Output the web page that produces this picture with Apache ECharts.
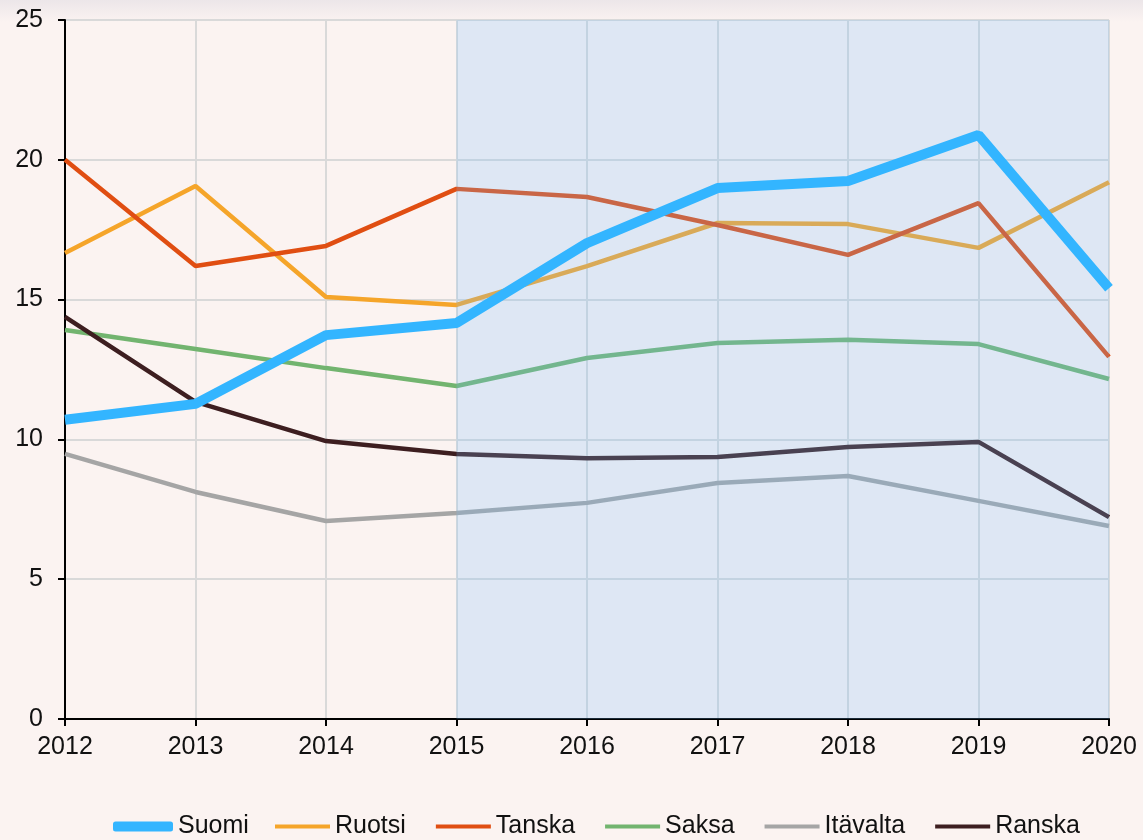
<!DOCTYPE html>
<html>
<head>
<meta charset="utf-8">
<script src="https://cdn.jsdelivr.net/npm/echarts@6/dist/echarts.min.js"></script>
<style>
    html, body {
        margin: 0;
        padding: 0;
        background: linear-gradient(#ece6e9 0px, #fbf3f1 22px, #fbf3f1 100%);
    }
    #chart {
        width: 1143px;
        height: 840px;
    }
</style>
</head>
<body>
<div id="chart"></div>
<script>
// vuodet ja sarjat
const years = ["2012", "2013", "2014", "2015", "2016", "2017", "2018", "2019", "2020"];
const suomi = [10.7, 11.27, 13.73, 14.16, 17.02, 18.99, 19.24, 20.89, 15.41];
const ruotsi = [16.67, 19.06, 15.09, 14.81, 16.2, 17.74, 17.7, 16.85, 19.2];
const tanska = [20.0, 16.2, 16.92, 18.96, 18.67, 17.67, 16.6, 18.45, 12.95];
const saksa = [13.91, 13.23, 12.55, 11.91, 12.91, 13.45, 13.56, 13.41, 12.16];
const itavalta = [9.48, 8.12, 7.08, 7.37, 7.73, 8.44, 8.69, 7.8, 6.9];
const ranska = [14.38, 11.34, 9.94, 9.48, 9.33, 9.37, 9.73, 9.91, 7.22];
const shadeFrom = "2015";
const shadeTo = "2020";

const font = "Liberation Sans, Arial, sans-serif";
const legendText = { fontFamily: font, fontSize: 25, color: "#111" };

function lineSeries(name, data, color, width, z) {
    return {
        name: name,
        type: "line",
        data: data,
        symbol: "none",
        z: z,
        lineStyle: { color: color, width: width },
        itemStyle: { color: color },
    };
}

const chart = echarts.init(document.getElementById("chart"));
chart.setOption({
    backgroundColor: "transparent",
    animation: false,
    grid: { left: 65, right: 34, top: 20, bottom: 121, containLabel: false },
    legend: [
        {
            data: ["Suomi"],
            left: 113,
            top: 814,
            padding: 0,
            icon: "roundRect",
            itemWidth: 60,
            itemHeight: 10,
            itemGap: 0,
            textStyle: legendText,
        },
        {
            data: ["Ruotsi", "Tanska", "Saksa", "Itävalta", "Ranska"],
            left: 275,
            top: 814,
            padding: 0,
            icon: "rect",
            itemWidth: 55,
            itemHeight: 4,
            itemGap: 30,
            textStyle: legendText,
        },
    ],
    xAxis: {
        type: "category",
        data: years,
        boundaryGap: false,
        axisLine: { lineStyle: { color: "#000", width: 2 } },
        axisTick: { show: true, length: 7, alignWithLabel: true, lineStyle: { color: "#000", width: 2 } },
        axisLabel: { fontFamily: font, fontSize: 25, color: "#111", margin: 16 },
        splitLine: { show: true, lineStyle: { color: "#d9d9d9", width: 2 } },
    },
    yAxis: {
        type: "value",
        min: 0,
        max: 25,
        interval: 5,
        axisLine: { show: true, lineStyle: { color: "#000", width: 2 } },
        axisTick: { show: true, length: 7, lineStyle: { color: "#000", width: 2 } },
        axisLabel: { fontFamily: font, fontSize: 25, color: "#111", margin: 22 },
        splitLine: { show: true, lineStyle: { color: "#d9d9d9", width: 2 } },
    },
    series: [
        lineSeries("Ruotsi", ruotsi, "#f5a52a", 4.5, 2),
        lineSeries("Tanska", tanska, "#e04e12", 4.5, 2),
        lineSeries("Saksa", saksa, "#72b46f", 4.5, 2),
        lineSeries("Itävalta", itavalta, "#a5a5a5", 4.5, 2),
        lineSeries("Ranska", ranska, "#3d1e20", 4.5, 2),
        {
            // sininen korostusalue
            name: "shade",
            type: "line",
            data: [],
            z: 3,
            markArea: {
                silent: true,
                z: 3,
                itemStyle: { color: "rgba(120,190,255,0.22)" },
                data: [[{ xAxis: shadeFrom }, { xAxis: shadeTo }]],
            },
        },
        lineSeries("Suomi", suomi, "#33b5ff", 10, 4),
    ],
});
</script>
</body>
</html>
